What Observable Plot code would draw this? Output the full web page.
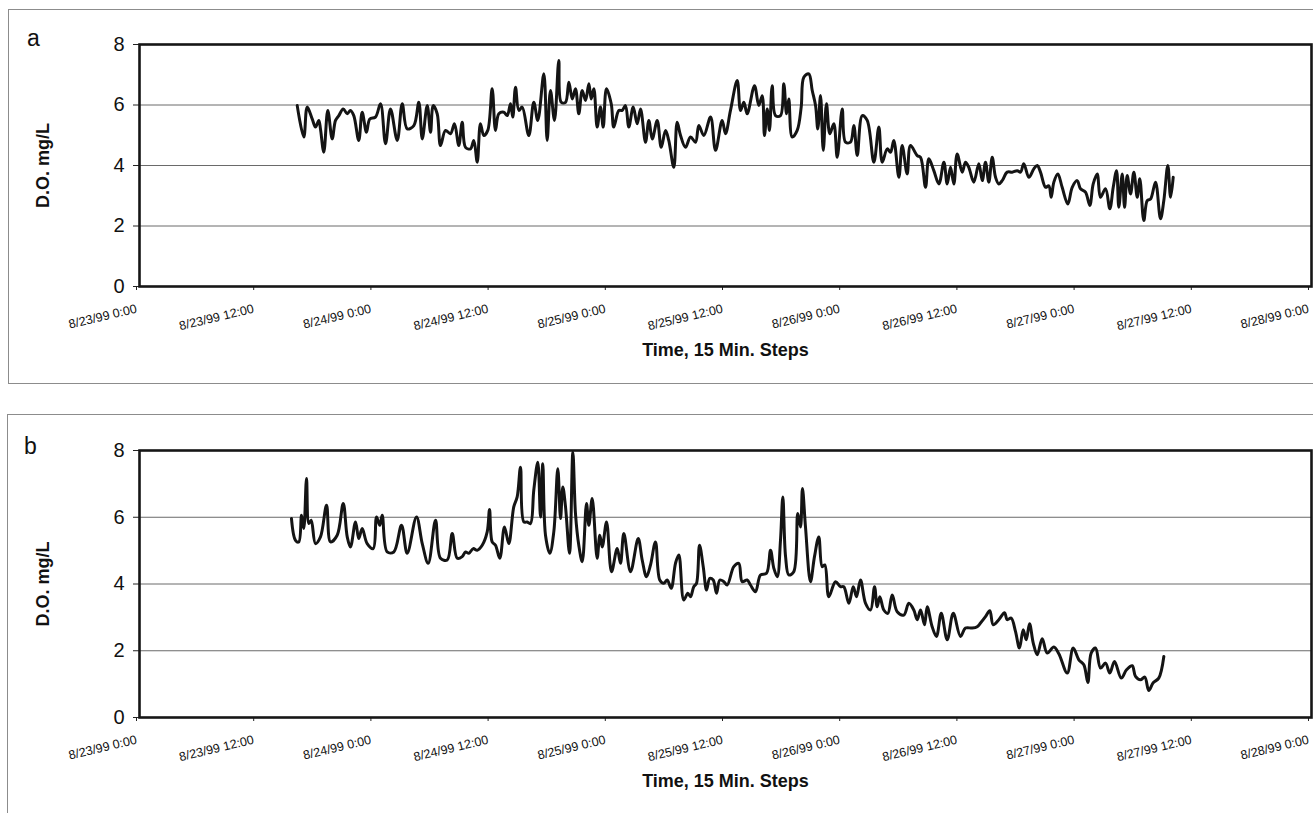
<!DOCTYPE html>
<html><head><meta charset="utf-8">
<script src="https://cdn.jsdelivr.net/npm/d3@7"></script>
<script src="https://cdn.jsdelivr.net/npm/@observablehq/plot@0.6"></script>
<style>
body{margin:0;background:#fff;}
#wrap{position:relative;width:1313px;height:813px;overflow:hidden;background:#fff;font-family:"Liberation Sans",Arial,sans-serif;}
.box{position:absolute;border:1px solid #8c8c8c;pointer-events:none;}
.tag{position:absolute;font-size:23px;line-height:1;color:#111;}
.chart{position:absolute;left:0;}
</style></head><body>
<div id="wrap">
 <div class="chart" id="ca" style="top:0"></div>
 <div class="chart" id="cb" style="top:400px"></div>
 <div class="box" style="left:8px;top:9px;width:1330px;height:373px"></div>
 <div class="box" style="left:7px;top:414px;width:1330px;height:420px"></div>
 <div class="tag" style="left:27px;top:27px">a</div>
 <div class="tag" style="left:24px;top:435px">b</div>
</div>
<script>
// Time origin: 8/23/99 0:00; offsets in hours
const originMs = Date.UTC(1999, 7, 23, 0, 0);
const xTickHours = [0, 12, 24, 36, 48, 60, 72, 84, 96, 108, 120];
const xTickLabels = ["8/23/99 0:00","8/23/99 12:00","8/24/99 0:00","8/24/99 12:00","8/25/99 0:00","8/25/99 12:00","8/26/99 0:00","8/26/99 12:00","8/27/99 0:00","8/27/99 12:00","8/28/99 0:00"];
const yTicks = [0, 2, 4, 6, 8];
const yGrid = [2, 4, 6];
const yTitle = "D.O. mg/L";
const xTitle = "Time, 15 Min. Steps";

// Panel a
const hoursA = [16.15,16.82,17.17,17.68,18.02,18.36,18.53,18.87,19.28,19.73,
20.07,20.41,20.86,21.27,21.60,21.94,22.45,22.80,23.24,23.58,
24.16,24.68,25.19,25.70,26.39,26.90,27.41,28.09,28.60,28.95,
29.46,29.80,30.07,30.48,30.82,31.33,31.84,32.25,32.69,33.04,
33.38,33.89,34.23,34.58,34.91,35.25,35.66,36.11,36.45,36.79,
37.30,37.65,37.99,38.22,38.50,38.84,39.18,39.86,40.37,40.78,
41.40,41.74,42.08,42.49,42.93,43.18,43.62,43.96,44.31,44.64,
44.98,45.33,45.67,46.01,46.25,46.52,46.86,47.20,47.48,47.81,
48.30,48.56,49.08,49.42,49.76,50.10,50.55,50.96,51.30,51.81,
52.15,52.50,53.01,53.42,53.86,54.19,54.71,55.05,55.39,55.90,
56.42,56.93,57.27,57.78,58.47,58.98,59.66,60.00,60.51,61.20,
61.54,61.88,62.22,62.97,63.41,63.76,63.99,64.27,64.50,64.78,
65.12,65.63,65.97,66.25,66.48,66.83,67.34,67.75,68.02,68.53,
68.88,69.22,69.45,69.73,70.01,70.34,70.68,71.09,71.44,71.95,
72.29,72.80,73.14,73.49,74.00,74.51,75.19,75.70,76.05,76.56,
76.90,77.23,77.75,78.09,78.60,78.94,79.63,79.97,80.48,80.82,
81.33,81.85,82.36,82.70,83.04,83.38,83.72,84.24,84.57,84.91,
85.42,85.94,86.29,86.62,86.96,87.31,87.65,87.98,88.33,88.84,
89.35,89.87,90.21,90.54,91.06,91.57,91.92,92.25,92.77,93.10,
93.35,93.62,94.03,94.47,95.05,95.50,96.01,96.35,96.86,97.30,
97.65,98.06,98.39,98.91,99.35,99.70,100.04,100.27,100.62,100.86,
101.13,101.47,101.81,102.16,102.42,102.83,103.18,103.52,104.03,104.54,
104.88,105.29,105.57,105.84];
const doA = [5.98,4.94,5.93,5.54,5.27,5.49,5.21,4.44,5.82,4.88,
5.49,5.65,5.87,5.71,5.82,5.65,4.83,5.76,5.10,5.54,
5.60,6.04,4.72,5.87,4.83,6.04,5.21,5.32,6.09,4.88,
5.98,5.10,5.98,5.71,4.66,5.16,5.05,5.38,4.66,5.43,
4.60,4.55,4.83,4.11,5.38,4.99,5.16,6.54,5.16,5.71,
5.76,5.65,6.04,5.60,6.59,5.82,5.93,4.99,6.09,5.49,
7.03,4.83,6.48,5.49,7.47,6.09,6.09,6.75,6.20,6.54,
5.71,6.48,6.15,6.70,6.20,6.54,5.27,5.93,5.27,6.54,
6.04,5.27,5.82,5.82,5.98,5.27,5.93,5.38,5.87,4.77,
5.49,4.88,5.49,4.60,5.16,4.83,3.94,5.43,5.00,4.60,
4.94,4.77,5.32,4.99,5.60,4.50,5.49,5.05,5.82,6.81,
5.82,6.09,5.71,6.64,5.98,6.31,4.99,5.87,5.16,6.64,
5.65,5.65,6.70,5.71,6.20,4.94,5.16,5.93,6.92,7.03,
6.48,5.98,5.21,6.31,4.50,6.04,5.05,5.38,4.27,5.87,
4.77,4.77,5.32,4.33,5.65,5.49,4.11,5.27,4.11,4.55,
4.44,4.83,3.61,4.66,3.72,4.66,4.33,4.27,3.28,4.22,
3.83,3.39,4.11,3.39,3.94,3.39,4.38,3.78,4.11,3.94,
3.45,4.06,3.50,4.11,3.45,4.27,3.61,3.39,3.50,3.78,
3.78,3.83,3.78,4.06,3.61,3.89,4.00,3.78,3.28,3.33,
2.95,3.45,3.72,3.28,2.73,3.28,3.50,3.23,3.12,2.68,
3.39,3.72,2.95,3.23,2.57,3.28,3.83,2.62,3.72,2.62,
3.67,3.06,3.78,2.95,3.56,2.18,2.84,2.89,3.45,2.24,
2.84,4.00,2.95,3.61];

// Panel b
const hoursB = [15.56,15.97,16.31,16.59,16.82,17.10,17.34,17.58,18.02,18.53,
19.15,19.56,20.24,20.86,21.27,21.60,22.12,22.45,22.80,23.31,
23.93,24.27,24.60,24.85,25.36,26.04,26.83,27.41,28.36,28.95,
29.56,30.31,30.82,31.51,32.02,32.53,33.04,33.38,33.72,34.17,
34.58,35.09,35.60,35.84,36.11,36.45,36.89,37.37,37.81,38.32,
38.67,39.01,39.35,39.70,40.03,40.37,40.78,41.06,41.29,41.57,
42.01,42.42,42.83,43.11,43.34,43.62,44.03,44.37,44.64,44.98,
45.33,45.77,46.01,46.35,46.86,47.13,47.38,47.82,48.33,48.91,
49.25,49.59,50.28,51.06,51.47,51.91,52.32,52.83,53.27,53.68,
54.03,54.44,54.88,55.22,55.73,56.14,56.42,56.75,57.03,57.34,
57.72,58.06,58.39,58.74,59.08,59.42,59.83,60.17,60.85,61.36,
61.71,62.22,62.56,63.07,63.58,64.20,64.61,64.95,65.30,65.63,
65.87,66.15,66.48,66.99,67.40,67.68,67.88,68.19,68.70,69.11,
69.55,69.90,70.17,70.58,71.26,71.77,72.11,72.63,73.08,73.41,
73.82,74.34,74.85,75.26,75.53,75.80,76.21,76.62,77.07,77.58,
78.26,78.77,79.28,79.63,79.97,80.38,80.65,81.16,81.60,82.09,
82.70,83.32,84.06,84.57,85.26,85.77,86.11,86.62,87.06,87.41,
87.98,88.57,88.84,89.25,89.69,90.10,90.48,90.79,91.13,91.51,
91.92,92.43,92.94,93.62,94.13,94.99,95.60,96.18,96.69,97.10,
97.44,97.89,98.40,98.91,99.35,99.83,100.52,101.06,101.64,101.98,
102.49,102.93,103.34,103.79,104.36,104.88];
const doB = [5.96,5.31,5.26,6.06,5.66,7.16,5.81,5.91,5.21,5.41,
6.36,5.26,5.46,6.41,5.41,5.11,5.86,5.36,5.66,5.21,
5.06,6.01,5.76,6.06,4.96,4.96,5.76,4.92,6.01,5.21,
4.62,5.91,4.77,4.72,5.51,4.77,4.82,4.96,4.92,5.06,
5.01,5.16,5.56,6.23,5.26,5.16,4.77,5.71,5.21,6.31,
6.61,7.50,5.86,5.86,5.81,6.81,7.65,6.01,7.60,5.46,
4.92,5.56,7.45,5.96,6.91,6.31,4.92,7.95,6.11,5.16,
4.67,6.41,5.76,6.56,4.77,5.46,5.11,5.86,4.37,5.06,
4.62,5.51,4.37,5.36,4.72,4.22,4.57,5.26,4.12,4.02,
4.12,3.87,4.62,4.87,3.52,3.72,3.62,3.92,4.02,5.16,
4.52,3.82,4.17,4.12,3.72,4.12,4.07,3.97,4.52,4.62,
4.07,4.12,3.97,3.77,4.27,4.32,5.01,4.47,4.22,5.31,
6.61,4.82,4.27,4.37,6.11,5.71,6.86,5.71,4.07,4.82,
5.41,4.52,4.57,3.62,4.07,3.92,3.92,3.42,3.92,3.62,
4.12,3.42,3.22,3.92,3.32,3.62,3.22,3.12,3.67,3.17,
3.07,3.42,3.22,2.93,3.22,2.78,3.32,2.72,2.43,3.12,
2.33,3.12,2.43,2.68,2.68,2.72,2.83,3.02,3.20,2.78,
2.93,3.14,2.93,2.98,2.58,2.08,2.63,2.33,2.81,2.23,
1.88,2.36,1.93,2.11,1.91,1.33,2.08,1.73,1.58,1.05,
1.93,2.08,1.48,1.63,1.33,1.68,1.18,1.43,1.55,1.23,
1.13,1.21,0.81,1.04,1.18,1.83];

const toDate = h => new Date(originMs + h * 3600e3);
const xTicks = xTickHours.map(toDate);
const labelOf = new Map(xTicks.map((d, i) => [+d, xTickLabels[i]]));
const FONT = '"Liberation Sans", Arial, Helvetica, sans-serif';

function panel(hours, values, {height, marginTop, marginBottom, titleDy}) {
  const data = hours.map((h, i) => ({t: toDate(h), v: values[i]}));
  return Plot.plot({
    width: 1313, height, marginTop, marginBottom, marginLeft: 139, marginRight: 2,
    style: {background: "transparent", fontFamily: FONT, color: "#111", overflow: "visible"},
    x: {type: "utc", domain: [xTicks[0], xTicks[xTicks.length - 1]]},
    y: {domain: [0, 8]},
    marks: [
      Plot.ruleY(yGrid, {stroke: "#6a6a6a", strokeWidth: 1}),
      Plot.axisY(yTicks, {fontSize: 20, tickSize: 6, tickPadding: 9, label: null, stroke: "#222"}),
      Plot.axisX(xTicks, {tickFormat: d => labelOf.get(+d), tickRotate: -13.5, fontSize: 12.5, tickSize: 4, tickPadding: 18, dx: -3, label: null, stroke: "#222"}),
      Plot.line(data, {x: "t", y: "v", stroke: "#141414", strokeWidth: 3, curve: "catmull-rom"}),
      Plot.frame({stroke: "#161616", strokeWidth: 2.6}),
      Plot.text([yTitle], {frameAnchor: "left", dx: -96, rotate: -90, textAnchor: "middle", lineAnchor: "middle", fontSize: 18, fontWeight: "bold"}),
      Plot.text([xTitle], {frameAnchor: "bottom", dy: titleDy, textAnchor: "middle", lineAnchor: "bottom", fontSize: 18, fontWeight: "bold"})
    ]
  });
}

document.getElementById("ca").append(panel(hoursA, doA, {height: 400, marginTop: 44, marginBottom: 114, titleDy: 69}));
document.getElementById("cb").append(panel(hoursB, doB, {height: 413, marginTop: 50, marginBottom: 96, titleDy: 69}));
</script>
</body></html>
